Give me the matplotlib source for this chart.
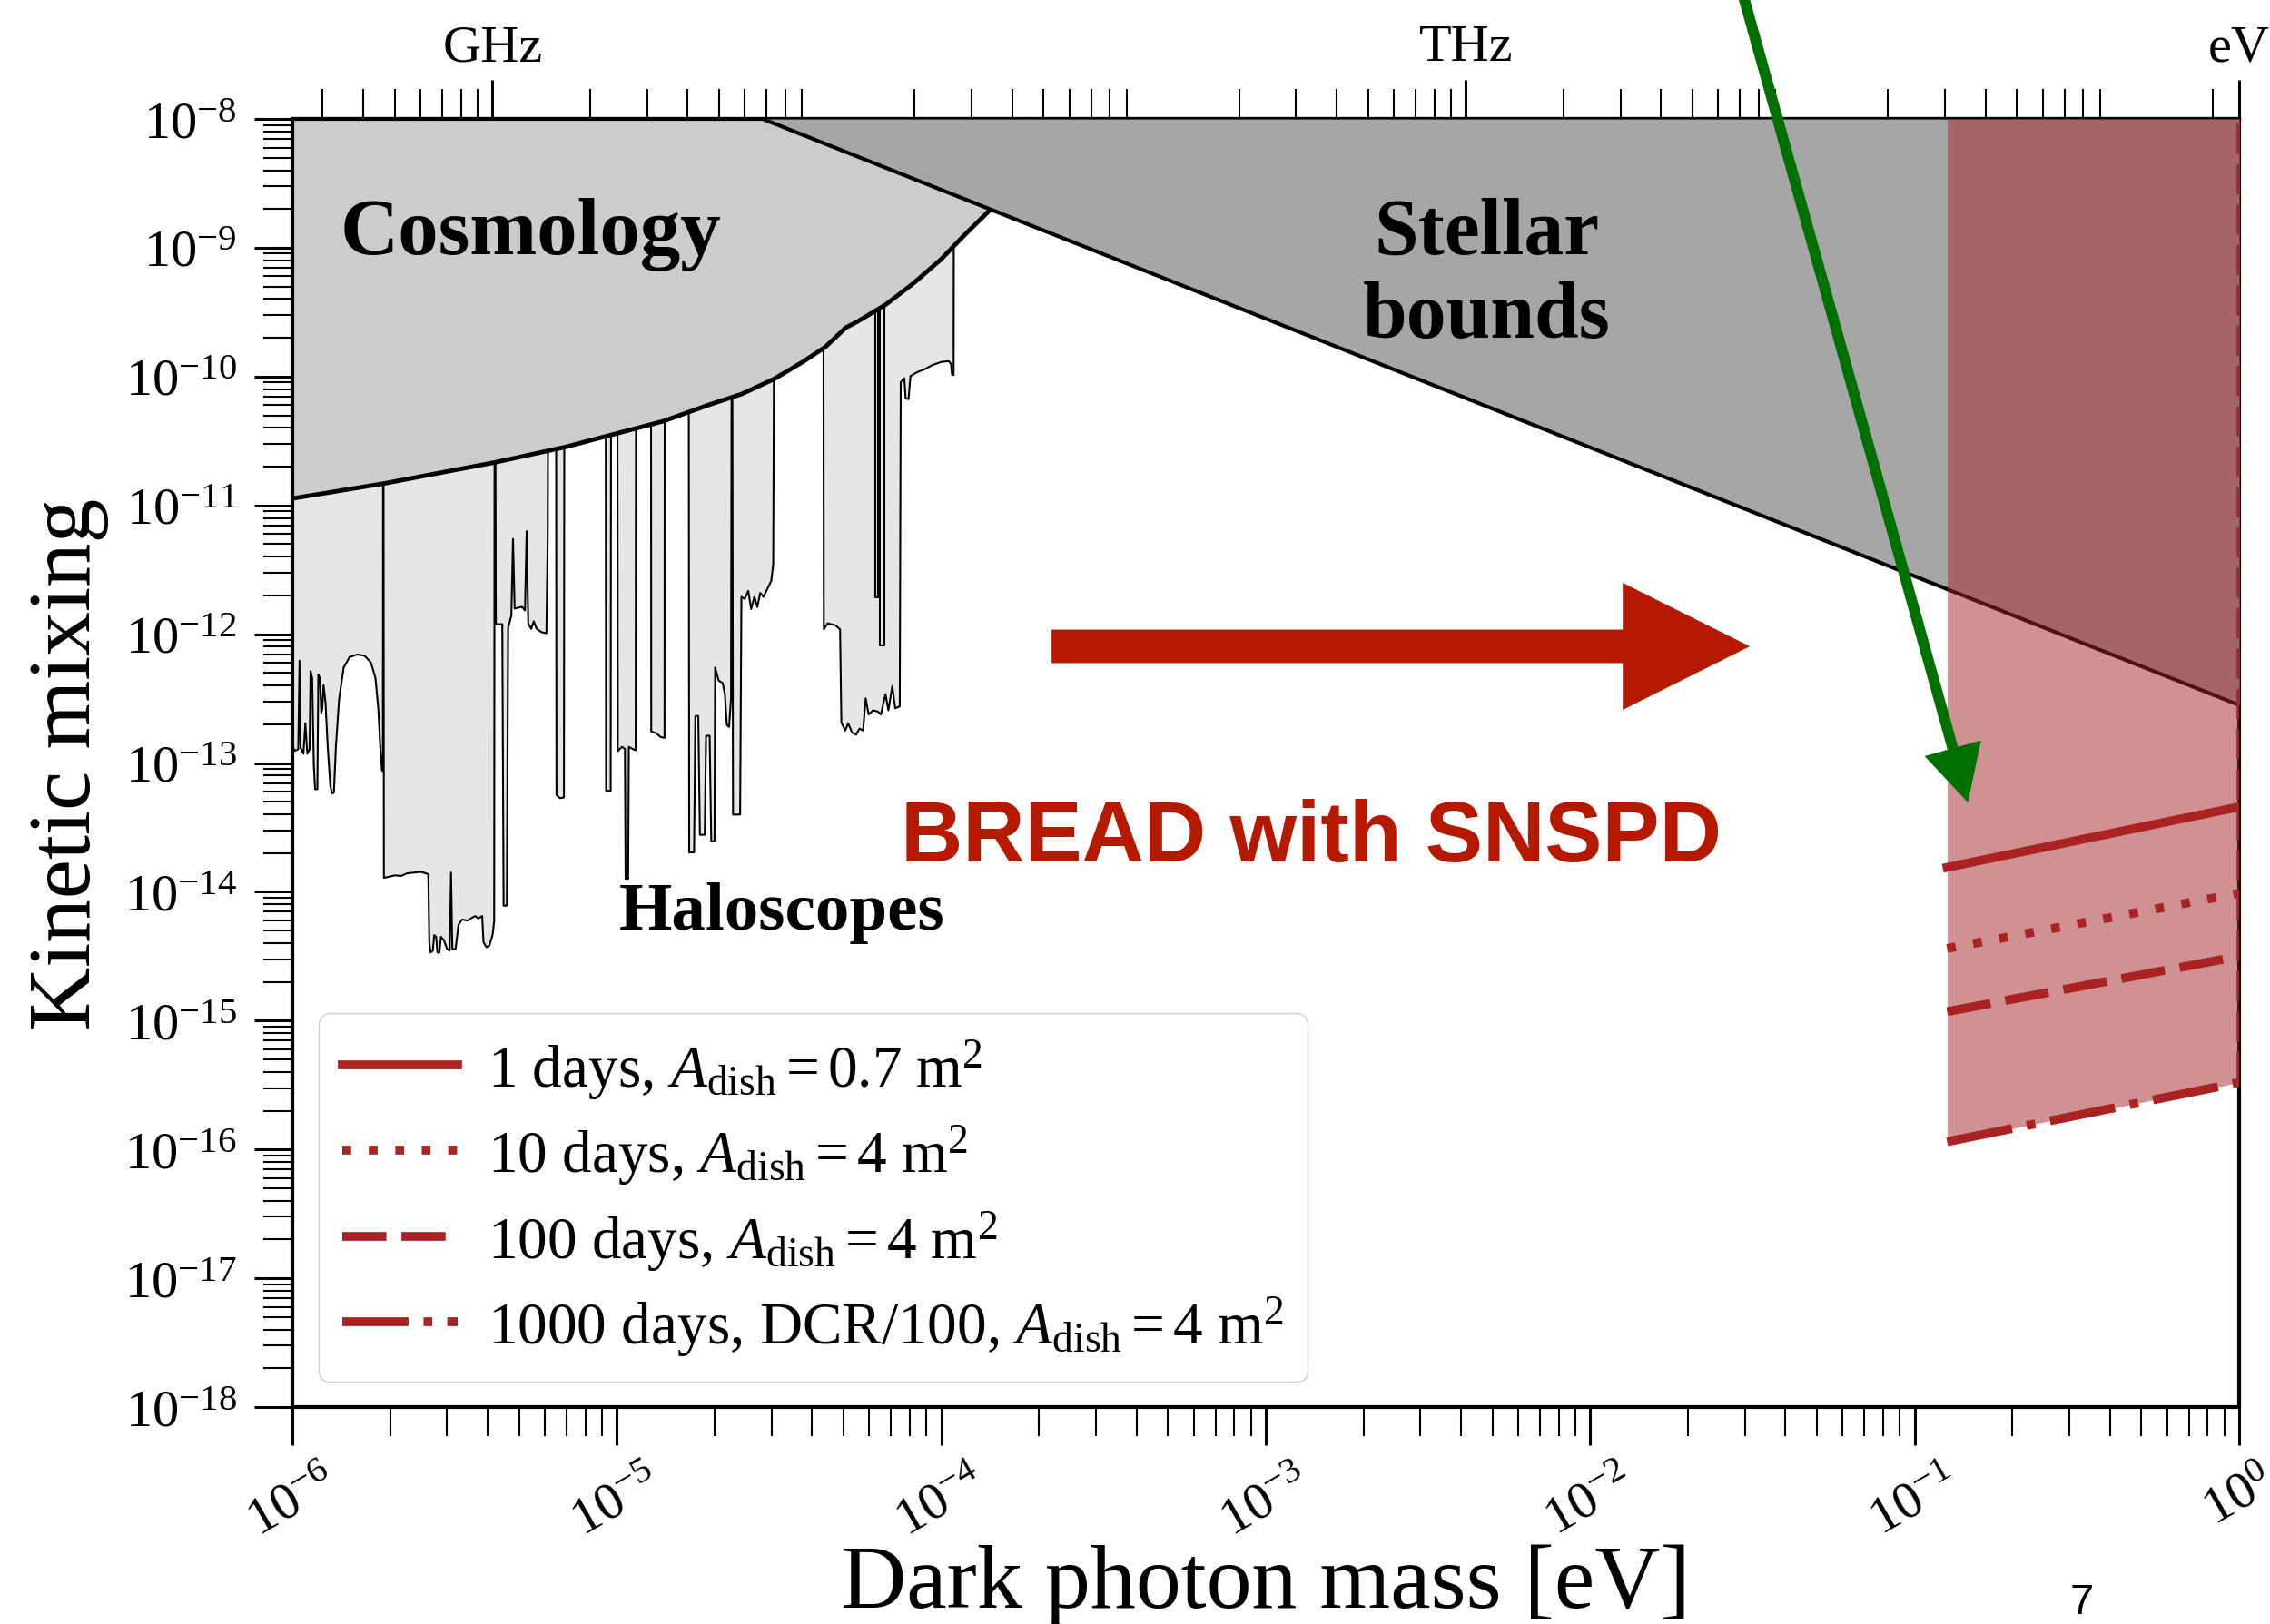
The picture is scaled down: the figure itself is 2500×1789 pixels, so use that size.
import numpy as np
import matplotlib
matplotlib.use("Agg")
import matplotlib.pyplot as plt
from matplotlib.ticker import LogLocator, FixedLocator, FixedFormatter, NullFormatter

plt.rcParams.update({
    "font.family": ["Liberation Serif", "DejaVu Serif"],
    "mathtext.fontset": "custom",
    "mathtext.rm": "Liberation Serif",
    "mathtext.it": "Liberation Serif:italic",
    "mathtext.bf": "Liberation Serif:bold",
})

# all curves below are log10(mass / eV) and log10(kinetic mixing)
TOP = -8.0  # "no limit" -> hidden under cosmology

halo_logm = [
    -6.000, -5.992, -5.982, -5.978, -5.975, -5.966, -5.960, -5.954, -5.947, -5.944,
    -5.939, -5.934, -5.930, -5.923, -5.920, -5.915, -5.911, -5.908, -5.904, -5.898,
    -5.891, -5.883, -5.878, -5.872, -5.866, -5.856, -5.842, -5.824, -5.800, -5.777,
    -5.758, -5.744, -5.735, -5.729, -5.724, -5.721, -5.720, -5.718, -5.702, -5.684,
    -5.665, -5.646, -5.628, -5.604, -5.589, -5.581, -5.578, -5.574, -5.567, -5.563,
    -5.557, -5.553, -5.547, -5.542, -5.533, -5.523, -5.515, -5.511, -5.507, -5.497,
    -5.488, -5.477, -5.460, -5.446, -5.436, -5.427, -5.415, -5.411, -5.402, -5.393,
    -5.383, -5.378, -5.376, -5.373, -5.353, -5.349, -5.339, -5.335, -5.325, -5.320,
    -5.315, -5.309, -5.292, -5.283, -5.278, -5.273, -5.264, -5.256, -5.247, -5.231,
    -5.217, -5.213, -5.209, -5.188, -5.186, -5.175, -5.163, -5.161, -5.035, -5.033,
    -5.019, -5.017, -4.999, -4.997, -4.984, -4.975, -4.973, -4.965, -4.963, -4.951,
    -4.942, -4.940, -4.895, -4.894, -4.877, -4.865, -4.853, -4.852, -4.779, -4.777,
    -4.762, -4.758, -4.749, -4.744, -4.729, -4.725, -4.714, -4.709, -4.699, -4.697,
    -4.686, -4.674, -4.667, -4.661, -4.654, -4.648, -4.645, -4.642, -4.620, -4.616,
    -4.606, -4.595, -4.586, -4.576, -4.567, -4.558, -4.548, -4.536, -4.524, -4.518,
    -4.513, -4.364, -4.362, -4.350, -4.326, -4.312, -4.308, -4.296, -4.287, -4.275,
    -4.263, -4.252, -4.241, -4.233, -4.224, -4.210, -4.196, -4.186, -4.172, -4.163,
    -4.151, -4.142, -4.128, -4.125, -4.114, -4.110, -4.101, -4.095, -4.074, -4.051,
    -4.028, -4.000, -3.977, -3.970, -3.967, -3.962, -3.961,
]
halo_loge = [
    -12.870, -12.905, -12.893, -12.205, -12.880, -12.928, -12.691, -12.928, -12.893, -12.286,
    -12.340, -13.014, -13.203, -13.203, -12.313, -12.340, -12.610, -12.583, -12.394, -12.529,
    -12.880, -13.176, -13.236, -13.230, -12.880, -12.502, -12.259, -12.178, -12.157, -12.168,
    -12.219, -12.340, -12.583, -12.880, -13.055, -13.063, TOP, -13.891, -13.883, -13.872,
    -13.877, -13.856, -13.851, -13.845, -13.856, -13.864, -14.390, -14.471, -14.457, -14.336,
    -14.349, -14.471, -14.471, -14.349, -14.376, -14.444, -14.457, -13.851, -14.444, -14.444,
    -14.255, -14.215, -14.223, -14.201, -14.188, -14.207, -14.188, -14.390, -14.430, -14.417,
    -14.336, -14.228, TOP, -11.922, -11.922, -14.107, -14.107, -11.949, -11.855, -11.260,
    -11.801, -11.797, -11.787, -11.815, -11.200, -11.917, -11.958, -11.900, -11.958, -11.985,
    -11.992, -11.234, TOP, TOP, -13.249, -13.273, -13.267, TOP, TOP, -13.215,
    -13.215, TOP, TOP, -12.908, -12.874, -12.891, -13.899, -13.899, -12.874, -12.891,
    -12.901, TOP, TOP, -12.754, -12.771, -12.798, -12.805, TOP, TOP, -13.694,
    -13.694, -12.635, -12.635, -13.557, -13.557, -12.788, -12.788, -13.608, -13.608, -12.259,
    -12.361, -12.378, -12.464, -12.703, -12.720, -12.498, TOP, -13.400, -13.400, -11.710,
    -11.726, -11.663, -11.805, -11.710, -11.789, -11.679, -11.710, -11.647, -11.585, -11.459,
    TOP, TOP, -11.962, -11.915, -11.931, -11.962, -12.686, -12.748, -12.692, -12.764,
    -12.780, -12.733, -12.748, -12.497, -12.623, -12.591, -12.600, -12.623, -12.465, -12.591,
    -12.402, -12.575, -12.560, -10.043, -10.012, -10.169, -10.175, -9.996, -9.965, -9.942,
    -9.911, -9.886, -9.880, -9.902, -9.987, -9.987, TOP,
]
# narrow limits drawn inside the grey block: (left, right, bottom)
halo_strips = [(-4.203, -4.196, -11.71), (-4.188, -4.175, -12.09)]

cosmo_logm = [-6.000, -5.714, -5.372, -5.158, -5.000, -4.858, -4.715, -4.615, -4.515,
              -4.429, -4.358, -4.294, -4.258, -4.172, -4.087, -4.001, -3.929, -3.851]
cosmo_loge = [-10.946, -10.828, -10.664, -10.546, -10.441, -10.347, -10.218, -10.135, -10.018,
              -9.889, -9.771, -9.619, -9.572, -9.442, -9.278, -9.090, -8.902, -8.709]

stellar_logm = [-4.55, 0.0]
stellar_loge = [-8.0, -12.55]

bread_logm = [-0.9, 0.0]
bread_1d = [-13.81, -13.34]
bread_10d = [-14.44, -14.01]
bread_100d = [-14.93, -14.50]
bread_1000d = [-15.94, -15.48]
bread_labels = [
    r"1 days, $A_{\rm dish} = 0.7\ {\rm m}^2$",
    r"10 days, $A_{\rm dish} = 4\ {\rm m}^2$",
    r"100 days, $A_{\rm dish} = 4\ {\rm m}^2$",
    r"1000 days, DCR/100, $A_{\rm dish} = 4\ {\rm m}^2$",
]

h_eVs = 4.135667696e-15
freq_ticks = [1e9, 1e12, 2.4179e14]
freq_labels = ["GHz", "THz", "eV"]

red = "#b51a00"
fill_red = "#a12525"
line_red = "#aa2222"

fig = plt.figure(figsize=(25, 17.9), dpi=100)
ax = fig.add_axes([0.1288, 0.1335, 0.8576, 0.7927])
ax.set_xscale("log")
ax.set_yscale("log")
ax.set_xlim(1e-6, 1)
ax.set_ylim(1e-18, 1e-8)
top = 10 ** TOP

hm = 10 ** np.array(halo_logm)
he = 10 ** np.array(halo_loge)
ax.fill_between(hm, he, top, color="#e6e6e6", lw=0, zorder=1)
ax.plot(hm, he, color="k", lw=1.5, zorder=1.5)
for ml, mr, eb in halo_strips:
    ax.plot(10 ** np.array([ml, ml, mr, mr]), 10 ** np.array([TOP, eb, eb, TOP]),
            color="k", lw=1.5, zorder=1.5)

cm = 10 ** np.array(cosmo_logm)
ce = 10 ** np.array(cosmo_loge)
ax.fill_between(cm, ce, top, color="#cccccc", lw=0, zorder=2)
ax.plot(cm, ce, color="k", lw=3.5, zorder=2.5)

sm = 10 ** np.array(stellar_logm)
se = 10 ** np.array(stellar_loge)
ax.fill_between(sm, se, top, color="#a6a6a6", lw=0, zorder=3)
ax.plot(sm, se, color="k", lw=3, zorder=3.5)

bm = 10 ** np.array(bread_logm)
ax.fill_between(bm, 10 ** np.array(bread_1000d), top, color=fill_red, alpha=0.5, lw=0, zorder=4)
ax.plot([bm[-1], bm[-1]], [10 ** bread_1000d[-1], top], color=line_red, lw=4,
        linestyle=(0, (6, 2)), zorder=4.5)
styles = ["-", (0, (1, 2)), (0, (5, 1.7)), (0, (7.5, 1.7, 1, 1.7))]
for vals, ls, lab in zip([bread_1d, bread_10d, bread_100d, bread_1000d], styles, bread_labels):
    ax.plot(bm, 10 ** np.array(vals), color=line_red, lw=7, linestyle=ls, label=lab, zorder=5)

leg = ax.legend(loc="lower left", bbox_to_anchor=(0.0135, 0.0197), borderaxespad=0,
                fontsize=47, handlelength=1.95, fancybox=True, edgecolor="0.82",
                framealpha=1, labelspacing=0.36, borderpad=0.4, handletextpad=0.5)
leg.set_zorder(10)

# axes styling
for s in ax.spines.values():
    s.set_linewidth(3)
ax.tick_params(which="both", direction="out", top=False, right=False)
ax.tick_params(which="major", length=30, width=2.2, labelsize=42, pad=14)
ax.tick_params(which="minor", length=23, width=1.5)
ax.tick_params(axis="x", labelrotation=30, pad=10)
for axis in (ax.xaxis, ax.yaxis):
    axis.set_major_locator(LogLocator(base=10, numticks=30))
    axis.set_minor_locator(LogLocator(base=10, subs=np.arange(2, 10), numticks=30))
    axis.set_minor_formatter(NullFormatter())

sec = ax.secondary_xaxis("top", functions=(lambda m: m / h_eVs, lambda f: f * h_eVs))
sec.xaxis.set_major_locator(FixedLocator(freq_ticks))
sec.xaxis.set_major_formatter(FixedFormatter(freq_labels))
sec.xaxis.set_minor_locator(LogLocator(base=10, subs=np.arange(2, 10), numticks=40))
sec.xaxis.set_minor_formatter(NullFormatter())
sec.tick_params(which="major", direction="out", length=31, width=2.2, labelsize=42, pad=7)
sec.tick_params(which="minor", direction="out", length=24, width=1.5)
sec.spines["top"].set_linewidth(3)

ax.set_xlabel("Dark photon mass [eV]", fontsize=72)
ax.xaxis.set_label_coords(0.5, -0.106)
ax.set_ylabel("Kinetic mixing", fontsize=70)
ax.yaxis.set_label_coords(-0.094, 0.5)

# region labels
ax.text(10 ** -5.852, 10 ** -9.043, "Cosmology", fontsize=64, fontweight="bold",
        va="baseline", ha="left", zorder=6)
ax.text(10 ** -2.320, 10 ** -9.043, "Stellar", fontsize=63, fontweight="bold",
        va="baseline", ha="center", zorder=6)
ax.text(10 ** -2.320, 10 ** -9.691, "bounds", fontsize=63, fontweight="bold",
        va="baseline", ha="center", zorder=6)
ax.text(10 ** -4.992, 10 ** -14.286, "Haloscopes", fontsize=54, fontweight="bold",
        va="baseline", ha="left", zorder=6)
ax.text(10 ** -4.125, 10 ** -13.758, "BREAD with SNSPD", fontsize=68, fontweight="bold",
        color=red, family="Liberation Sans", va="baseline", ha="left", zorder=6)

ax.annotate("", xy=(10 ** -1.508, 10 ** -12.094), xytext=(10 ** -3.660, 10 ** -12.094),
            arrowprops=dict(arrowstyle="simple,head_length=100.8,head_width=100.8,tail_width=26.6",
                            mutation_scale=1, color=red, shrinkA=0, shrinkB=0, lw=0),
            zorder=7)
ga = ax.annotate("", xy=(10 ** -0.836, 10 ** -13.306), xytext=(10 ** -1.544, 10 ** -6.9),
                 arrowprops=dict(arrowstyle="simple,head_length=44.6,head_width=46.5,tail_width=8.6",
                                 mutation_scale=1, color="#007000", shrinkA=0, shrinkB=0, lw=0),
                 annotation_clip=False, zorder=8)
ga.arrow_patch.set_clip_on(False)

fig.text(2293 / 2500, 2 / 1790, "7", fontsize=34, family="Liberation Sans",
         ha="center", va="bottom")

fig.savefig("out.png", dpi=100)
